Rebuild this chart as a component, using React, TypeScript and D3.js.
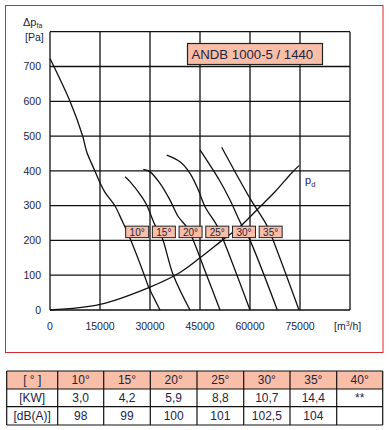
import React from "react";
import * as d3 from "d3";

// fan curves, [flow m3/h, pressure Pa]
const curve10 = [
  [0, 723], [6000, 600], [9800, 500], [11000, 455], [13500, 399], [15000, 366],
  [16500, 338], [19500, 299], [21500, 259], [22500, 239], [24000, 206],
  [28300, 100], [29500, 68], [33000, 0],
];
const curve15 = [
  [22500, 383], [24000, 369], [27500, 326], [29000, 302], [31500, 244],
  [33500, 211], [37000, 100], [42000, 0],
];
const curve20 = [
  [28000, 404], [30000, 397], [33000, 364], [36000, 316], [38500, 268],
  [41000, 239], [42500, 211], [47000, 100], [51000, 0],
];
const curve25 = [
  [35000, 445], [39000, 426], [42000, 393], [44500, 345], [46500, 297],
  [50000, 244], [52000, 201], [60000, 0],
];
const curve30 = [
  [45000, 460], [51000, 370], [54000, 316], [57500, 244], [59500, 211], [68200, 0],
];
const curve35 = [
  [51500, 468], [60000, 321], [65000, 244], [66500, 211], [74700, 0],
];
const pdCurve = [
  [0, 0], [15000, 16], [30000, 66], [38500, 105], [45000, 150], [52000, 203],
  [57500, 244], [62500, 292], [67500, 340], [72500, 394], [74700, 415],
];

const angleCurves = [curve10, curve15, curve20, curve25, curve30, curve35];
const angleLabels = ["10°", "15°", "20°", "25°", "30°", "35°"];

const xTicks = [0, 15000, 30000, 45000, 60000, 75000];
const yTicks = [0, 100, 200, 300, 400, 500, 600, 700];

const tableHead = ["[ ° ]", "10°", "15°", "20°", "25°", "30°", "35°", "40°"];
const tableKW = ["[KW]", "3,0", "4,2", "5,9", "8,8", "10,7", "14,4", "**"];
const tableDB = ["[dB(A)]", "98", "99", "100", "101", "102,5", "104", ""];

const salmon = "#f9bea7";
const ink = "#24243f";
const font = "'Liberation Sans', Arial, sans-serif";

export default function App() {
  const x = d3.scaleLinear().domain([0, 90000]).range([50, 350]);
  const y = d3.scaleLinear().domain([0, 800]).range([310, 31.7]);

  const line = d3
    .line<number[]>()
    .x((d) => x(d[0]))
    .y((d) => y(d[1]))
    .curve(d3.curveCatmullRom.alpha(0.5));

  const gridX = d3.range(0, 90001, 15000);
  const gridY = d3.range(0, 801, 100);

  // angle label boxes sit side by side between 200 and 240 Pa
  const boxW = 23;
  const boxTop = y(241);
  const boxH = y(208) - y(241);

  // table layout
  const colX = [6.7, 57.7, 103.7, 150.3, 197, 243.7, 290, 336.7, 382.7];
  const rowY = [371, 389, 406.7, 425];
  const rows = [tableHead, tableKW, tableDB];

  return (
    <div style={{ position: "absolute", left: 0, top: 0 }}>
      <svg width={389} height={430} style={{ display: "block", fontFamily: font }}>
        <rect x={0} y={0} width={389} height={430} fill="#fff" />
        <rect x={5.5} y={5.5} width={377.5} height={347} fill="none" stroke="#d7282f" strokeWidth={1} />

        {/* grid */}
        <g stroke="#111" strokeWidth={1.3}>
          {gridX.map((v) => (
            <line key={"gx" + v} x1={x(v)} x2={x(v)} y1={y(0)} y2={y(800)} />
          ))}
          {gridY.map((v) => (
            <line key={"gy" + v} x1={x(0)} x2={x(90000)} y1={y(v)} y2={y(v)} />
          ))}
        </g>

        {/* axis labels */}
        <g fill={ink} fontSize={10.5}>
          {yTicks.map((v) => (
            <text key={"yt" + v} x={41} y={y(v) + 3.8} textAnchor="end">
              {v}
            </text>
          ))}
          {xTicks.map((v) => (
            <text key={"xt" + v} x={x(v)} y={329.5} textAnchor="middle">
              {v}
            </text>
          ))}
          <text x={334} y={329.5}>
            [m<tspan fontSize={7} dy={-4}>3</tspan>
            <tspan dy={4}>/h]</tspan>
          </text>
          <text x={23} y={25.5} fontSize={11}>
            Δp<tspan fontSize={7} dy={2}>fa</tspan>
          </text>
          <text x={25} y={40.5}>[Pa]</text>
          <text x={305} y={184} fontSize={11}>
            p<tspan fontSize={7.5} dy={2.5}>d</tspan>
          </text>
        </g>

        {/* curves */}
        <g fill="none" stroke="#111" strokeWidth={1.3}>
          {angleCurves.map((c, i) => (
            <path key={"c" + i} d={line(c) || ""} />
          ))}
          <path d={line(pdCurve) || ""} />
        </g>

        {/* angle boxes */}
        {angleLabels.map((lab, i) => {
          const bx = x(22700) + i * 26.7;
          return (
            <g key={"b" + lab}>
              <rect x={bx} y={boxTop} width={boxW} height={boxH} fill={salmon} stroke="#222" strokeWidth={1} />
              <text x={bx + boxW / 2} y={boxTop + boxH / 2 + 3.6} textAnchor="middle" fontSize={10} fill={ink}>
                {lab}
              </text>
            </g>
          );
        })}

        {/* title box */}
        <rect x={187.5} y={43.5} width={135} height={21} fill={salmon} stroke="#222" strokeWidth={1.2} />
        <text x={191.5} y={58.5} fontSize={13.2} fill={ink}>
          ANDB 1000-5 / 1440
        </text>

        {/* table */}
        <rect x={colX[0]} y={rowY[0]} width={colX[8] - colX[0]} height={rowY[1] - rowY[0]} fill={salmon} />
        <g stroke="#111" strokeWidth={1.2}>
          {rowY.map((ry, i) => (
            <line key={"tr" + i} x1={colX[0]} x2={colX[8]} y1={ry} y2={ry} />
          ))}
          {colX.map((cx, i) => (
            <line key={"tc" + i} x1={cx} x2={cx} y1={rowY[0]} y2={rowY[3]} />
          ))}
        </g>
        <g fontSize={12} fill={ink} textAnchor="middle">
          {rows.map((r, ri) =>
            r.map((cell, ci) => (
              <text
                key={"t" + ri + "-" + ci}
                x={(colX[ci] + colX[ci + 1]) / 2}
                y={(rowY[ri] + rowY[ri + 1]) / 2 + 4.3}
              >
                {cell}
              </text>
            ))
          )}
        </g>
      </svg>
    </div>
  );
}
